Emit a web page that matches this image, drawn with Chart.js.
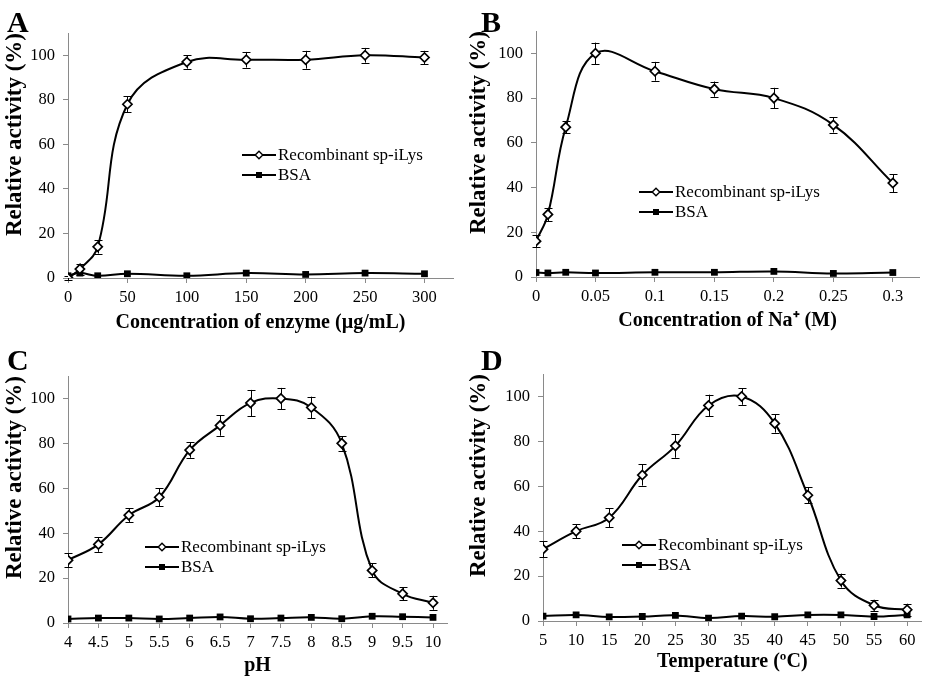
<!DOCTYPE html>
<html><head><meta charset="utf-8">
<script src="https://cdn.jsdelivr.net/npm/chart.js@4.4.1/dist/chart.umd.min.js"></script>
<style>
html,body{margin:0;padding:0;background:#fff;}
body{width:928px;height:676px;position:relative;overflow:hidden;}
.p{position:absolute;width:464px;height:338px;}
</style></head><body>
<div class="p" style="left:0;top:0"><canvas id="cA" width="464" height="338"></canvas></div>
<div class="p" style="left:464px;top:0"><canvas id="cB" width="464" height="338"></canvas></div>
<div class="p" style="left:0;top:338px"><canvas id="cC" width="464" height="338"></canvas></div>
<div class="p" style="left:464px;top:338px"><canvas id="cD" width="464" height="338"></canvas></div>
<script>
// ---------- data ----------
const seriesNames = ['Recombinant sp-iLys', 'BSA'];
const yTicks = [0, 20, 40, 60, 80, 100];

const enzymeConc   = [0, 10, 25, 50, 100, 150, 200, 250, 300];
const enzymeLys    = [0, 4, 14, 78, 97, 98, 98, 100, 99];
const enzymeLysErr = [1, 2.5, 3, 3.5, 3, 3.5, 4, 3.3, 3];
const enzymeBSA    = [1, 2.2, 1, 1.9, 1, 2.2, 1.6, 2.2, 1.9];
const enzymeTicks  = [0, 50, 100, 150, 200, 250, 300];

const naConc   = [0, 0.01, 0.025, 0.05, 0.1, 0.15, 0.2, 0.25, 0.3];
const naLys    = [16, 28, 67, 100, 92, 84, 80, 68, 42];
const naLysErr = [2.8, 3, 2.8, 4.8, 4.2, 3.4, 4.6, 3.4, 4];
const naBSA    = [2, 1.8, 2.1, 1.8, 2.1, 2.1, 2.5, 1.6, 2];
const naTicks  = [0, 0.05, 0.1, 0.15, 0.2, 0.25, 0.3];

const phValues = [4, 4.5, 5, 5.5, 6, 6.5, 7, 7.5, 8, 8.5, 9, 9.5, 10];
const phLys    = [28, 35, 48, 56, 77, 88, 98, 100, 96, 80, 23.4, 13, 9];
const phLysErr = [3, 3.3, 3, 4, 3.4, 4.6, 5.8, 4.7, 4.8, 3.2, 3.1, 2.9, 3.1];
const phBSA    = [1.8, 2.2, 2.2, 1.8, 2.2, 2.7, 1.9, 2.2, 2.5, 1.9, 3, 2.8, 2.5];
const phTicks  = [4, 4.5, 5, 5.5, 6, 6.5, 7, 7.5, 8, 8.5, 9, 9.5, 10];

const tempValues = [5, 10, 15, 20, 25, 30, 35, 40, 45, 50, 55, 60];
const tempLys    = [32, 40, 46, 65, 78, 96, 100, 88, 56, 18, 7, 5];
const tempLysErr = [3.5, 3.2, 4.3, 4.7, 5.3, 4.8, 3.7, 4.1, 3.5, 3.1, 2.4, 2.7];
const tempBSA    = [2.2, 2.7, 1.8, 2, 2.5, 1.3, 2.2, 1.9, 2.7, 2.7, 2, 2.7];
const tempTicks  = [5, 10, 15, 20, 25, 30, 35, 40, 45, 50, 55, 60];

// ---------- layout / style ----------
const SERIF = '"Liberation Serif", "Times New Roman", serif';
const AXIS_COLOR = '#8a8a8a';

const panels = [
  {canvas:'cA', letter:'A', xs:enzymeConc, lys:enzymeLys, err:enzymeLysErr, bsa:enzymeBSA, ticks:enzymeTicks,
   xTitle:'Concentration of enzyme (µg/mL)', xMin:0, xMax:324,
   left:68, top:33, right:11, xh:60, xTitlePad:5, legend:{x:242, y:155}, letterX:7, letterY:32},
  {canvas:'cB', letter:'B', xs:naConc, lys:naLys, err:naLysErr, bsa:naBSA, ticks:naTicks,
   xTitle:'Concentration of Na\u207A (M)', xMin:0, xMax:0.322,
   left:72, top:31, right:9, xh:61, xTitlePad:7, legend:{x:175, y:192}, letterX:17, letterY:32},
  {canvas:'cC', letter:'C', xs:phValues, lys:phLys, err:phLysErr, bsa:phBSA, ticks:phTicks,
   xTitle:'pH', xMin:4, xMax:10.23,
   left:68, top:38, right:17, xh:53, xTitlePad:0, legend:{x:145, y:209}, letterX:7, letterY:32},
  {canvas:'cD', letter:'D', xs:tempValues, lys:tempLys, err:tempLysErr, bsa:tempBSA, ticks:tempTicks,
   xTitle:'Temperature (\u00BAC)', xMin:5, xMax:62.2,
   left:79, top:36, right:2, xh:55, xTitlePad:4, legend:{x:158, y:207}, letterX:17, letterY:32}
];

function drawDiamond(ctx, x, y, r){
  ctx.beginPath();
  ctx.moveTo(x - r, y); ctx.lineTo(x, y - r); ctx.lineTo(x + r, y); ctx.lineTo(x, y + r); ctx.closePath();
  ctx.fillStyle = '#fff'; ctx.fill();
  ctx.lineWidth = 1.4; ctx.strokeStyle = '#000'; ctx.stroke();
}
function drawSquare(ctx, x, y, s){
  ctx.fillStyle = '#000'; ctx.fillRect(x - s/2, y - s/2, s, s);
}

const errorBarPlugin = {
  id: 'errorBars',
  beforeDatasetsDraw(chart){
    const ctx = chart.ctx, xs = chart.scales.x, ys = chart.scales.y;
    chart.data.datasets.forEach(ds => {
      if (!ds.errors) return;
      ctx.save();
      ctx.strokeStyle = '#000'; ctx.lineWidth = 1;
      ds.data.forEach((pt, i) => {
        const e = ds.errors[i];
        const px = Math.round(xs.getPixelForValue(pt.x)) + 0.5;
        const y1 = ys.getPixelForValue(pt.y + e);
        const y2 = ys.getPixelForValue(pt.y - e);
        ctx.beginPath();
        ctx.moveTo(px, y1); ctx.lineTo(px, y2);
        ctx.moveTo(px - 4, Math.round(y1) + 0.5); ctx.lineTo(px + 4, Math.round(y1) + 0.5);
        ctx.moveTo(px - 4, Math.round(y2) + 0.5); ctx.lineTo(px + 4, Math.round(y2) + 0.5);
        ctx.stroke();
      });
      ctx.restore();
    });
  }
};

const overlayPlugin = {
  id: 'overlay',
  afterDraw(chart){
    const o = chart.options.plugins.overlay;
    const ctx = chart.ctx;
    ctx.save();
    ctx.fillStyle = '#000';
    ctx.font = 'bold 30px ' + SERIF;
    ctx.textBaseline = 'alphabetic'; ctx.textAlign = 'left';
    ctx.fillText(o.letter, o.letterX, o.letterY);
    ctx.font = '17px ' + SERIF;
    ctx.textBaseline = 'middle';
    chart.data.datasets.forEach((ds, i) => {
      const y = o.legend.y + i * 20;
      const x0 = o.legend.x, x1 = x0 + 34;
      ctx.strokeStyle = '#000'; ctx.lineWidth = 2;
      ctx.beginPath(); ctx.moveTo(x0, y); ctx.lineTo(x1, y); ctx.stroke();
      if (i === 0) drawDiamond(ctx, (x0 + x1) / 2, y, 3.8);
      else drawSquare(ctx, (x0 + x1) / 2, y, 6);
      ctx.fillStyle = '#000';
      ctx.fillText(ds.label, x1 + 2, y + 1);
    });
    ctx.restore();
  }
};

panels.forEach(p => {
  const lysData = p.xs.map((x, i) => ({x: x, y: p.lys[i]}));
  const bsaData = p.xs.map((x, i) => ({x: x, y: p.bsa[i]}));
  new Chart(document.getElementById(p.canvas), {
    type: 'line',
    data: {
      datasets: [
        {label: seriesNames[0], data: lysData, errors: p.err, borderColor: '#000', borderWidth: 2,
         tension: 0.4, pointStyle: 'rectRot', pointRadius: 4.6, pointBorderWidth: 1.7,
         pointBackgroundColor: '#fff', pointBorderColor: '#000', order: 1},
        {label: seriesNames[1], data: bsaData, borderColor: '#000', borderWidth: 2,
         tension: 0.4, pointStyle: 'rect', pointRadius: 4.8, pointBorderWidth: 0,
         pointBackgroundColor: '#000', pointBorderColor: '#000', order: 2}
      ]
    },
    options: {
      responsive: false, animation: false, devicePixelRatio: 1,
      layout: {padding: {left: 0, top: p.top, right: p.right, bottom: 0}},
      plugins: {legend: {display: false}, tooltip: {enabled: false}, overlay: p},
      scales: {
        x: {
          type: 'linear', min: p.xMin, max: p.xMax,
          afterBuildTicks: s => { s.ticks = p.ticks.map(v => ({value: v})); },
          afterFit: s => { s.height = p.xh; },
          grid: {display: true, drawOnChartArea: false, drawTicks: true, tickLength: 5, color: AXIS_COLOR},
          border: {display: true, color: AXIS_COLOR, width: 1},
          ticks: {color: '#000', font: {family: SERIF, size: 16.5}, padding: 5, maxRotation: 0, autoSkip: false,
                  callback: v => String(v)},
          title: {display: true, text: p.xTitle, color: '#000',
                  font: {family: SERIF, size: 20, weight: 'bold', lineHeight: 1.0},
                  padding: {top: 0, bottom: p.xTitlePad}}
        },
        y: {
          type: 'linear', min: 0, max: 110,
          afterBuildTicks: s => { s.ticks = yTicks.map(v => ({value: v})); },
          afterFit: s => { s.width = p.left; },
          grid: {display: true, drawOnChartArea: false, drawTicks: true, tickLength: 5, color: AXIS_COLOR},
          border: {display: true, color: AXIS_COLOR, width: 1},
          ticks: {color: '#000', font: {family: SERIF, size: 16.5}, padding: 8, callback: v => String(v)},
          title: {display: true, text: 'Relative activity (%)', color: '#000', align: 'end',
                  font: {family: SERIF, size: 23, weight: 'bold', lineHeight: 1.0},
                  padding: {top: 4, bottom: 0}}
        }
      }
    },
    plugins: [errorBarPlugin, overlayPlugin]
  });
});
</script>
</body></html>
